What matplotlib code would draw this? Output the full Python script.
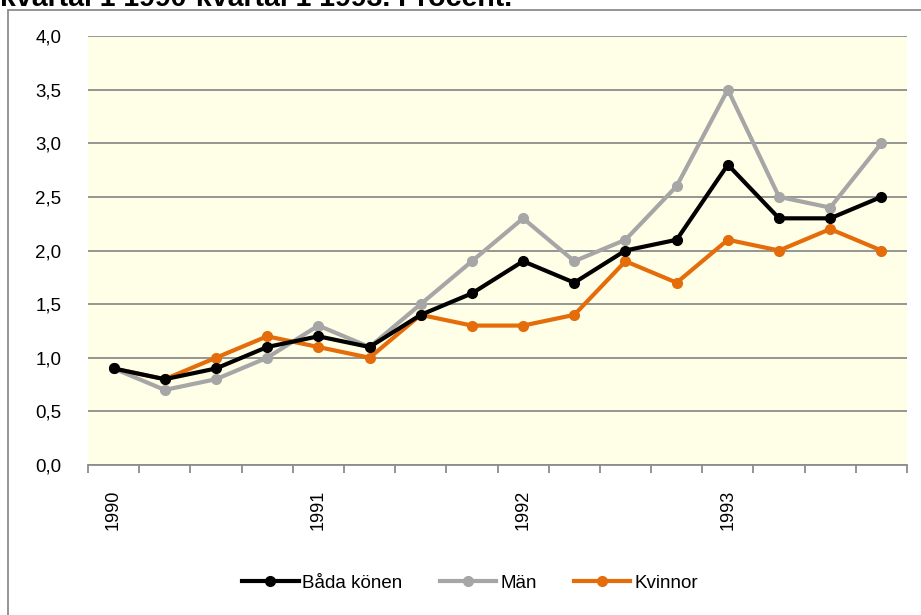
import numpy as np
import matplotlib
matplotlib.use('Agg')
import matplotlib.pyplot as plt
from matplotlib.patches import Rectangle
from matplotlib.ticker import FuncFormatter

plt.rcParams['font.family'] = ['Liberation Sans', 'DejaVu Sans']

# quarters 1990 kv1 - 1993 kv4
quarters = ['1990', '', '', '', '1991', '', '', '', '1992', '', '', '', '1993', '', '', '']
bada = [0.9, 0.8, 0.9, 1.1, 1.2, 1.1, 1.4, 1.6, 1.9, 1.7, 2.0, 2.1, 2.8, 2.3, 2.3, 2.5]
man = [0.9, 0.7, 0.8, 1.0, 1.3, 1.1, 1.5, 1.9, 2.3, 1.9, 2.1, 2.6, 3.5, 2.5, 2.4, 3.0]
kvinnor = [0.9, 0.8, 1.0, 1.2, 1.1, 1.0, 1.4, 1.3, 1.3, 1.4, 1.9, 1.7, 2.1, 2.0, 2.2, 2.0]

W, H = 921, 615
fig = plt.figure(figsize=(W/100, H/100), dpi=100)

# outer chart border (cut off at right/bottom like the reference)
fig.patches.append(Rectangle((8/W, -0.05), 1.0, 1-10/H+0.05, transform=fig.transFigure,
                             fill=False, ec='#8c8c8c', lw=1.3))
# title, only its lower part shows in the reference
fig.text(0.0, 1-6/H, 'kvartal 1 1990-kvartal 1 1993. Procent.', fontsize=20.5,
         fontweight='bold', va='baseline', ha='left')

ax = fig.add_axes([88/W, 1-465/H, (907-88)/W, (465-36)/H])
ax.set_facecolor('#ffffe8')

x = np.arange(len(quarters))
ax.plot(x, bada, color='black', lw=3, marker='o', ms=7, label='Båda könen', zorder=5)
ax.plot(x, man, color='#a6a6a6', lw=3, marker='o', ms=7, label='Män', zorder=4)
ax.plot(x, kvinnor, color='#e46c0a', lw=3, marker='o', ms=7, label='Kvinnor', zorder=3)

ax.set_ylim(0, 4)
ax.set_yticks(np.arange(0, 4.01, 0.5))
ax.yaxis.set_major_formatter(FuncFormatter(lambda v, p: f'{v:.1f}'.replace('.', ',')))
ax.grid(axis='y', color='#8c8c8c', lw=1.3)
ax.set_axisbelow(True)
ax.tick_params(axis='y', length=0, pad=19, labelsize=13.5)

ax.set_xlim(-0.5, len(quarters)-0.5)
ax.set_xticks(x)
ax.set_xticklabels(quarters, rotation=90, fontsize=13)
ax.set_xticks(np.arange(-0.5, len(quarters)), minor=True)
ax.tick_params(axis='x', which='major', length=0, pad=18)
ax.tick_params(axis='x', which='minor', length=6, color='#8c8c8c', width=1.3)

for s in ['top', 'right', 'left']:
    ax.spines[s].set_visible(False)
ax.spines['bottom'].set_color('#8c8c8c')
ax.spines['bottom'].set_linewidth(1.3)

fig.legend(loc='center', bbox_to_anchor=(470/W, 1-583/H), ncol=3, frameon=False,
           fontsize=13.5, handlelength=3, columnspacing=2.0, handletextpad=0.2)

fig.savefig('out.png', dpi=100)
